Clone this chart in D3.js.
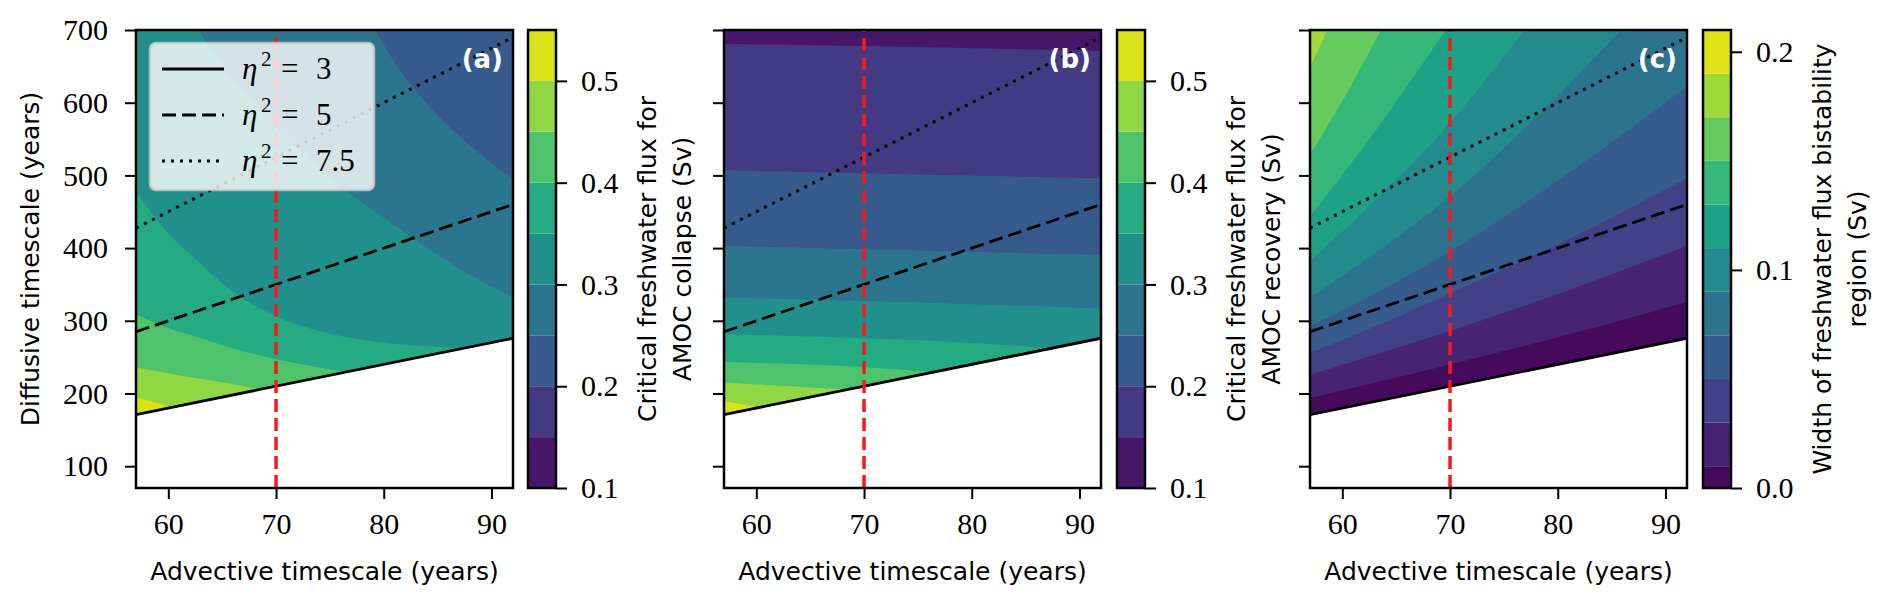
<!DOCTYPE html>
<meta charset="utf-8">
<head>
<style>
  body { margin: 0; background: #fff; }
  .tick text { font-family: "Liberation Serif", serif; font-size: 30px; fill: #000; }
  .tick line { stroke: #000; stroke-width: 2; }
  .lab { font-family: "DejaVu Sans", sans-serif; font-size: 25px; fill: #000; }
  .math { font-family: "Liberation Serif", serif; font-size: 31px; fill: #000; }
</style>
</head>
<title>AMOC thresholds</title>
<script src="https://d3js.org/d3.v7.min.js"></script>

<div id="fig"></div>
<script>
// axes
var xDomain = [57, 92];
var yDomain = [70, 700];
var xTicks = [60, 70, 80, 90];
var yTicks = [100, 200, 300, 400, 500, 600, 700];
var advectiveRef = 70;

// eta^2 lines, [advective, diffusive] end points
var etaSquared = [3, 5, 7.5];
var etaLines = [
  [[57, 171], [92, 276]],
  [[57, 285], [92, 460]],
  [[57, 427.5], [92, 690]]
];

// colour levels of the two colorbars
var levelsAB = [0.10, 0.15, 0.20, 0.25, 0.30, 0.35, 0.40, 0.45, 0.50, 0.55];
var levelsC = [0.00, 0.01, 0.03, 0.05, 0.07, 0.09, 0.11, 0.13, 0.15, 0.17, 0.19, 0.21];
var ticksAB = [0.1, 0.2, 0.3, 0.4, 0.5];
var ticksC = [0.0, 0.1, 0.2];

// contour boundaries, points are [advective, diffusive]
// (a) collapse: values grow toward the lower left
var collapseLevels = [0.25, 0.30, 0.35, 0.40, 0.45, 0.50];
var collapseLines = [
  [[79.2,700],[81,656],[83,616],[85.5,575],[88.5,535],[92,495]],
  [[62.8,700],[64,672],[66,632],[68,596],[70,565],[73,522],[76,484],[80,442],[84,400],[88,363],[92,332]],
  [[57,478],[60,420],[62.6,384],[66,340],[70,306],[74,286],[78,274],[83,266],[87.4,262.2]],
  [[57,309],[60,290],[62.6,278],[66,262],[70,247],[73.5,237],[76.5,229.5]],
  [[57,236],[60,228],[63,220],[66,213],[68.5,205.5]],
  [[57,194],[59,187],[60.3,180.9]]
];

// (b) recovery: values grow downward
var recoveryLevels = [0.15, 0.20, 0.25, 0.30, 0.35, 0.40, 0.45, 0.50];
var recoveryLines = [
  [[57,680.7],[70,678],[92,671]],
  [[57,507.4],[70,503],[92,496]],
  [[57,403],[70,398.3],[92,390.5]],
  [[57,331.8],[70,327.2],[92,317]],
  [[57,281.4],[70,276],[80,269.5],[87.4,262.2]],
  [[57,243.8],[70,236],[76.5,229.5]],
  [[57,215],[63,210],[68.5,205.5]],
  [[57,189.7],[60.3,180.9]]
];

// (c) bistability width: values grow toward the upper left
var widthLevels = [0.01, 0.03, 0.05, 0.07, 0.09, 0.11, 0.13, 0.15, 0.17];
var widthLines = [
  [[57,193.8],[70,240],[81,281],[92,326.3]],
  [[57,225.9],[70,286],[81,342],[92,403.3]],
  [[57,255.7],[63.5,295],[70,338],[81,412],[92,496.9]],
  [[57,292.4],[63.5,341],[70,395.6],[81,503],[92,622]],
  [[57,331.4],[63.5,398],[70,471],[78,580],[85.9,700]],
  [[57,381.8],[63.5,472],[70,572],[76.9,700]],
  [[57,443.7],[63.3,566],[69.6,700]],
  [[57,528.5],[60.3,610],[63.6,700]],
  [[57,647.7],[58.6,700]]
];

var W = 1892, H = 604;
var plotTop = 30, pw = 377, ph = 458, cbw = 28;

var svg = d3.select("#fig").append("svg")
  .attr("width", W)
  .attr("height", H);

var x = d3.scaleLinear().domain(xDomain).range([0, pw]);
var y = d3.scaleLinear().domain(yDomain).range([ph, 0]);

// matplotlib style: each band coloured at its midpoint
function bandColor(bands, lo) {
  var i = bands.findIndex(function(b) { return Math.abs(b - lo) < 1e-9; });
  var mid = (bands[i] + bands[i + 1]) / 2;
  var t = (mid - bands[0]) / (bands[bands.length - 1] - bands[0]);
  return d3.interpolateViridis(t);
}

var lineStyles = [
  {dash: null, width: 2.8},
  {dash: "14,6", width: 2.8},
  {dash: "3,6", width: 3}
];

var panels = [
  {id: "a", left: 136, cb: 528, levels: collapseLevels, lines: collapseLines, side: "below",
   base: 0.20, bands: levelsAB, cbTicks: ticksAB, yLabels: true,
   cbLabel: ["Critical freshwater flux for", "AMOC collapse (Sv)"]},
  {id: "b", left: 724, cb: 1117, levels: recoveryLevels, lines: recoveryLines, side: "below",
   base: 0.10, bands: levelsAB, cbTicks: ticksAB, yLabels: false,
   cbLabel: ["Critical freshwater flux for", "AMOC recovery (Sv)"]},
  {id: "c", left: 1310, cb: 1703, levels: widthLevels, lines: widthLines, side: "above",
   base: 0.00, bands: levelsC, cbTicks: ticksC, yLabels: false,
   cbLabel: ["Width of freshwater flux bistability", "region (Sv)"]}
];

var curve = d3.line()
  .x(function(d) { return x(d[0]); })
  .y(function(d) { return y(d[1]); })
  .curve(d3.curveMonotoneX);
var straight = d3.line()
  .x(function(d) { return x(d[0]); })
  .y(function(d) { return y(d[1]); });

panels.forEach(function(p) {
  var g = svg.append("g").attr("transform", "translate(" + p.left + "," + plotTop + ")");

  g.append("clipPath").attr("id", "clip-" + p.id)
    .append("rect").attr("width", pw).attr("height", ph);
  var field = g.append("g").attr("clip-path", "url(#clip-" + p.id + ")");

  // filled contours
  field.append("rect")
    .attr("width", pw).attr("height", ph)
    .attr("fill", bandColor(p.bands, p.base));

  var yEdge = p.side === "below" ? yDomain[0] : yDomain[1];
  p.lines.forEach(function(pts, k) {
    var first = pts[0], last = pts[pts.length - 1];
    var close = [[last[0], yEdge], [xDomain[0], yEdge], [xDomain[0], first[1]]];
    var d = curve(pts) + close.map(function(c) { return "L" + x(c[0]) + "," + y(c[1]); }).join("") + "Z";
    field.append("path").attr("d", d).attr("fill", bandColor(p.bands, p.levels[k]));
  });

  // no solution below eta^2 = 3
  var e3 = etaLines[0];
  field.append("path")
    .attr("d", straight([e3[0], e3[1], [e3[1][0], yDomain[0]], [e3[0][0], yDomain[0]]]) + "Z")
    .attr("fill", "#fff");

  // eta^2 lines
  etaLines.forEach(function(l, k) {
    field.append("path")
      .attr("d", straight(l))
      .attr("fill", "none")
      .attr("stroke", "#000")
      .attr("stroke-width", lineStyles[k].width)
      .attr("stroke-dasharray", lineStyles[k].dash);
  });

  // reference advective timescale
  field.append("line")
    .attr("x1", x(advectiveRef)).attr("x2", x(advectiveRef))
    .attr("y1", y(yDomain[0])).attr("y2", y(yDomain[1]))
    .attr("stroke", "#f51a1a")
    .attr("stroke-width", 3.5)
    .attr("stroke-dasharray", "13,6");

  // axes
  var xa = g.append("g").attr("transform", "translate(0," + ph + ")")
    .call(d3.axisBottom(x).tickValues(xTicks).tickSize(11).tickPadding(14).tickSizeOuter(0));
  var ya = g.append("g")
    .call(d3.axisLeft(y).tickValues(yTicks).tickSize(11).tickPadding(17).tickSizeOuter(0)
      .tickFormat(p.yLabels ? d3.format("d") : function() { return ""; }));
  [xa, ya].forEach(function(a) {
    a.attr("font-family", null).attr("font-size", null);
    a.select(".domain").remove();
  });

  g.append("rect")
    .attr("width", pw).attr("height", ph)
    .attr("fill", "none").attr("stroke", "#000").attr("stroke-width", 2.5);

  // legend in the first panel
  if (p.id === "a") {
    var lg = g.append("g").attr("transform", "translate(14,13)");
    lg.append("rect")
      .attr("width", 224).attr("height", 147).attr("rx", 6)
      .attr("fill", "#fff").attr("fill-opacity", 0.8)
      .attr("stroke", "#ccc").attr("stroke-opacity", 0.8).attr("stroke-width", 2.5);
    etaSquared.forEach(function(e, k) {
      var ry = 26 + k * 46;
      lg.append("line")
        .attr("x1", 12).attr("x2", 74).attr("y1", ry).attr("y2", ry)
        .attr("stroke", "#000")
        .attr("stroke-width", lineStyles[k].width)
        .attr("stroke-dasharray", lineStyles[k].dash);
      var t = lg.append("text").attr("class", "math").attr("y", ry + 10);
      t.append("tspan").attr("x", 92).attr("font-style", "italic").text("η");
      t.append("tspan").attr("x", 111).attr("dy", -13).attr("font-size", 21).text("2");
      t.append("tspan").attr("x", 131).attr("dy", 13).text("=");
      t.append("tspan").attr("x", 166).text(e);
    });
  }

  // panel letter
  g.append("text")
    .attr("x", pw - 10).attr("y", 38)
    .attr("text-anchor", "end")
    .attr("font-family", "DejaVu Sans, sans-serif")
    .attr("font-weight", "bold")
    .attr("font-size", 26)
    .attr("fill", "#fff")
    .text("(" + p.id + ")");

  // axis labels
  g.append("text").attr("class", "lab")
    .attr("x", pw / 2).attr("y", 550)
    .attr("text-anchor", "middle")
    .text("Advective timescale (years)");
  if (p.yLabels) {
    g.append("text").attr("class", "lab")
      .attr("transform", "translate(-97," + ph / 2 + ") rotate(-90)")
      .attr("text-anchor", "middle")
      .text("Diffusive timescale (years)");
  }

  // colorbar
  var cs = d3.scaleLinear()
    .domain([p.bands[0], p.bands[p.bands.length - 1]])
    .range([ph, 0]);
  var cg = svg.append("g").attr("transform", "translate(" + p.cb + "," + plotTop + ")");
  cg.selectAll("rect.band")
    .data(d3.pairs(p.bands))
    .enter().append("rect")
      .attr("class", "band")
      .attr("width", cbw)
      .attr("y", function(d) { return cs(d[1]); })
      .attr("height", function(d) { return cs(d[0]) - cs(d[1]); })
      .attr("fill", function(d) { return bandColor(p.bands, d[0]); });
  var ca = cg.append("g").attr("transform", "translate(" + cbw + ",0)")
    .call(d3.axisRight(cs).tickValues(p.cbTicks).tickFormat(d3.format(".1f"))
      .tickSize(11).tickPadding(14).tickSizeOuter(0));
  ca.attr("font-family", null).attr("font-size", null);
  ca.select(".domain").remove();
  cg.append("rect")
    .attr("width", cbw).attr("height", ph)
    .attr("fill", "none").attr("stroke", "#000").attr("stroke-width", 2.5);

  p.cbLabel.forEach(function(s, k) {
    cg.append("text").attr("class", "lab")
      .attr("transform", "translate(" + (cbw + 100 + k * 35) + "," + ph / 2 + ") rotate(-90)")
      .attr("text-anchor", "middle")
      .text(s);
  });
});
</script>
